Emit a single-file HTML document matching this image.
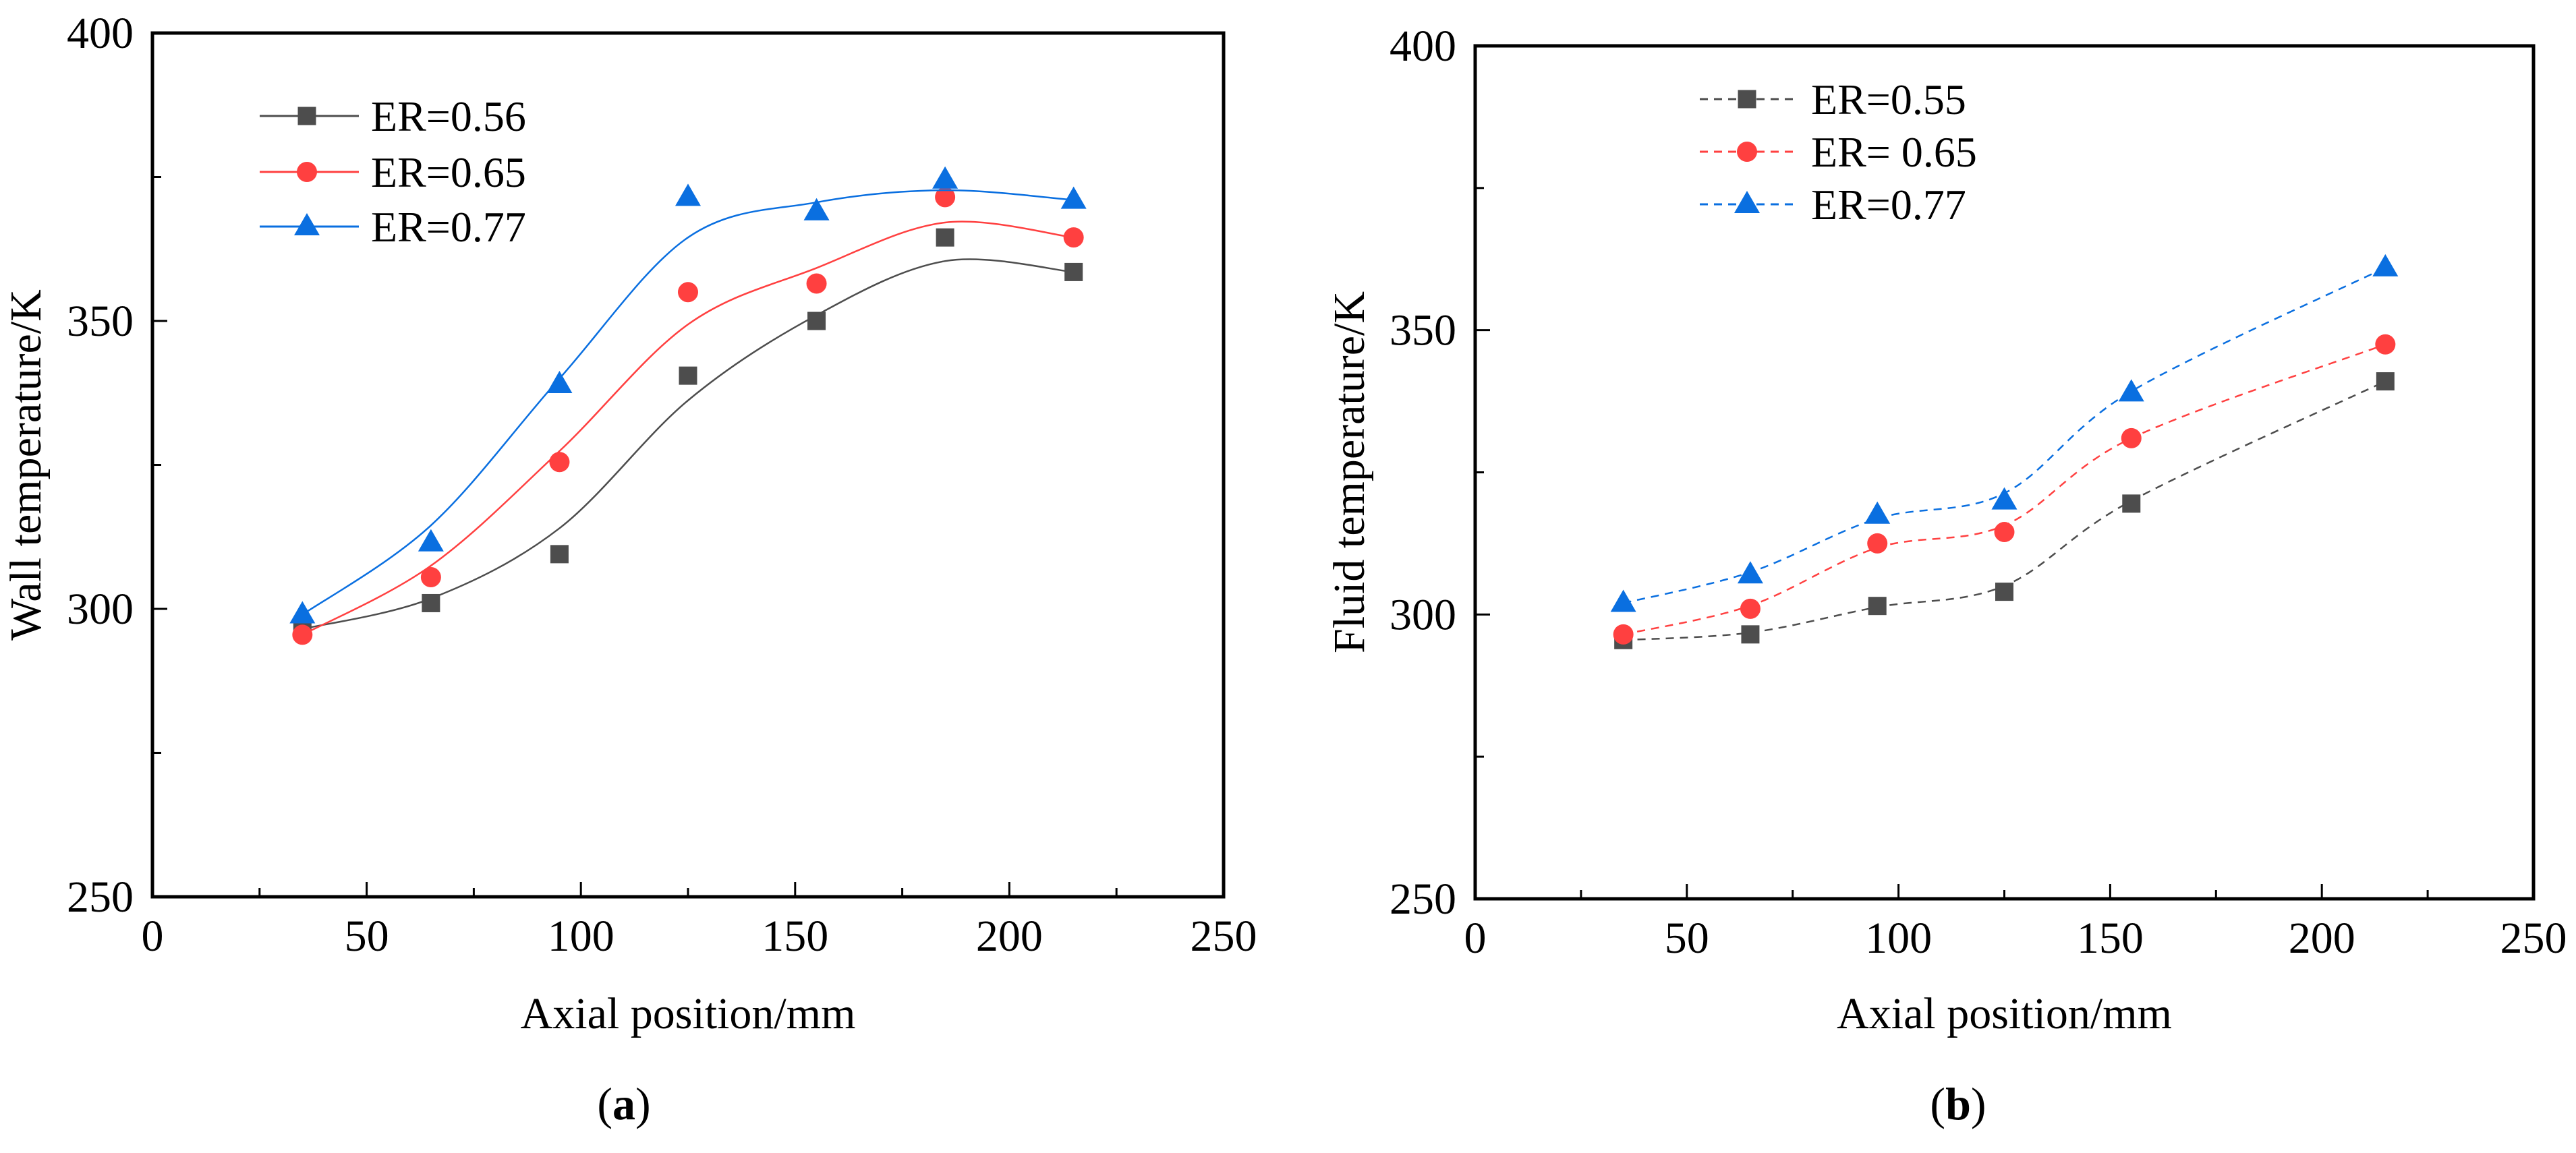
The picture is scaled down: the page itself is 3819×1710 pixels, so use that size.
<!DOCTYPE html>
<html><head><meta charset="utf-8"><style>
html,body{margin:0;padding:0;background:#fff;}
svg{display:block;}
text{font-family:"Liberation Serif","DejaVu Serif",serif;}
</style></head><body>
<svg id="fig" width="3819" height="1710" viewBox="0 0 3819 1710" xmlns="http://www.w3.org/2000/svg" font-family="Liberation Serif, serif"></svg>
<script>
const xsA = [35, 65, 95, 125, 155, 185, 215];
const wall056 = [296.5, 301, 309.5, 340.5, 350, 364.5, 358.5];
const wall065 = [295.5, 305.5, 325.5, 355, 356.5, 371.5, 364.5];
const wall077 = [299, 311.5, 339, 371.5, 369, 374.5, 371];
const xsB = [35, 65, 95, 125, 155, 215];
const fluid055 = [295.5, 296.5, 301.5, 304, 319.5, 341];
const fluid065 = [296.5, 301, 312.5, 314.5, 331, 347.5];
const fluid077 = [302, 307, 317.5, 320, 339, 361];
const xTicks = [0, 50, 100, 150, 200, 250];
const yTicks = [250, 300, 350, 400];
const labelsA = ["ER=0.56", "ER=0.65", "ER=0.77"];
const labelsB = ["ER=0.55", "ER= 0.65", "ER=0.77"];

const NS = "http://www.w3.org/2000/svg";
const svg = document.getElementById("fig");
const FONT = "Liberation Serif, DejaVu Serif, serif";
function mk(tag, attrs, parent) {
  const e = document.createElementNS(NS, tag);
  for (const k in attrs) e.setAttribute(k, attrs[k]);
  if (tag === "text") e.setAttribute("font-family", FONT);
  (parent || svg).appendChild(e);
  return e;
}
const COLORS = ["#4d4d4d", "#ff4040", "#0a6fe0"];
const SHAPES = ["square", "circle", "triangle"];

function marker(g, shape, cx, cy, color) {
  let m;
  if (shape === "square") m = mk("rect", {x: cx - 13.5, y: cy - 13.5, width: 27, height: 27, fill: color}, g);
  else if (shape === "circle") m = mk("circle", {cx: cx, cy: cy, r: 15, fill: color}, g);
  else m = mk("polygon", {points: `${cx},${cy - 20} ${cx + 19},${cy + 13} ${cx - 19},${cy + 13}`, fill: color}, g);
  return m;
}

function smoothPath(pts) {
  let d = `M${pts[0][0]},${pts[0][1]}`;
  for (let i = 0; i < pts.length - 1; i++) {
    const p0 = pts[Math.max(0, i - 1)], p1 = pts[i], p2 = pts[i + 1], p3 = pts[Math.min(pts.length - 1, i + 2)];
    const c1x = p1[0] + (p2[0] - p0[0]) / 6, c1y = p1[1] + (p2[1] - p0[1]) / 6;
    const c2x = p2[0] - (p3[0] - p1[0]) / 6, c2y = p2[1] - (p3[1] - p1[1]) / 6;
    d += ` C${c1x},${c1y} ${c2x},${c2y} ${p2[0]},${p2[1]}`;
  }
  return d;
}
function smoothVals(ys, w) {
  return ys.map((y, i) => (i === 0 || i === ys.length - 1) ? y : (w * ys[i - 1] + (1 - 2 * w) * y + w * ys[i + 1]));
}

function chart(o) {
  const g = mk("g", {});
  
  
  const X = v => o.L + (v - 0) / 250 * (o.R - o.L);
  const Y = v => o.B - (v - 250) / 150 * (o.B - o.T);
  const ax = mk("g", {stroke: "#000", "stroke-width": 3}, g);
  
  
  for (let v = 0; v <= 250; v += 25) {
    const len = v % 50 === 0 ? 22 : 13;
    mk("line", {x1: X(v), y1: o.B, x2: X(v), y2: o.B - len}, ax);
  }
  for (let v = 250; v <= 400; v += 25) {
    const len = v % 50 === 0 ? 22 : 13;
    mk("line", {x1: o.L, y1: Y(v), x2: o.L + len, y2: Y(v)}, ax);
  }
  const frame = mk("rect", {x: o.L, y: o.T, width: o.R - o.L, height: o.B - o.T, fill: "none", stroke: "#000", "stroke-width": 5}, g);
  
  
  xTicks.forEach(v => {
    const t = mk("text", {x: X(v), y: o.B + 80, "font-size": 66, "text-anchor": "middle"}, g);
    t.textContent = v;
    
    
  });
  yTicks.forEach(v => {
    const t = mk("text", {x: o.L - 28, y: Y(v) + 22, "font-size": 66, "text-anchor": "end"}, g);
    t.textContent = v;
    
    
  });
  const xt = mk("text", {x: (o.L + o.R) / 2, y: 1525, "font-size": 66, "text-anchor": "middle"}, g);
  xt.textContent = "Axial position/mm";
  
  
  const yt = mk("text", {x: 0, y: 0, "font-size": 66, "text-anchor": "middle", transform: `translate(${o.ytx},${(o.T + o.B) / 2}) rotate(-90)`}, g);
  yt.textContent = o.ytitle;
  
  
  const cap = mk("text", {x: o.capx, y: 1660, "font-size": 68, "text-anchor": "middle"}, g);
  cap.innerHTML = `(<tspan font-weight="bold">${o.cap}</tspan>)`;
  
  
  o.series.forEach((ys, i) => {
    const sg = mk("g", {}, g);
    
    
    const sm = smoothVals(ys, o.smooth);
    const cpts = o.xs.map((x, j) => [X(x), Y(sm[j])]);
    const p = mk("path", {d: smoothPath(cpts), fill: "none", stroke: COLORS[i], "stroke-width": 2.5, "stroke-dasharray": o.dash || "none"}, sg);
    
    
    o.xs.forEach((x, j) => {
      const m = marker(sg, SHAPES[i], X(x), Y(ys[j]), COLORS[i]);
      
      
    });
  });
  const lg = mk("g", {}, g);
  
  
  o.labels.forEach((lab, i) => {
    const y = o.legY[i];
    const eg = mk("g", {}, lg);
    
    
    mk("line", {x1: o.legX, y1: y, x2: o.legX + 147, y2: y, stroke: COLORS[i], "stroke-width": 3, "stroke-dasharray": o.dash || "none"}, eg);
    marker(eg, SHAPES[i], o.legX + 70, y, COLORS[i]);
    const t = mk("text", {x: o.legX + 165, y: y + 22, "font-size": 64}, eg);
    t.textContent = lab;
  });
}

chart({name: "chart-wall-temperature", L: 226, R: 1814, T: 49, B: 1330, xs: xsA,
  series: [wall056, wall065, wall077], labels: labelsA, ytitle: "Wall temperature/K", ytx: 60,
  cap: "a", capx: 925, legX: 385, legY: [172, 255, 336], smooth: 0.2});
chart({name: "chart-fluid-temperature", L: 2187, R: 3756, T: 68, B: 1333, xs: xsB,
  series: [fluid055, fluid065, fluid077], labels: labelsB, ytitle: "Fluid temperature/K", ytx: 2022,
  cap: "b", capx: 2903, legX: 2520, legY: [147, 225, 303], dash: "12,9", smooth: 0.08});
</script>
</body></html>
